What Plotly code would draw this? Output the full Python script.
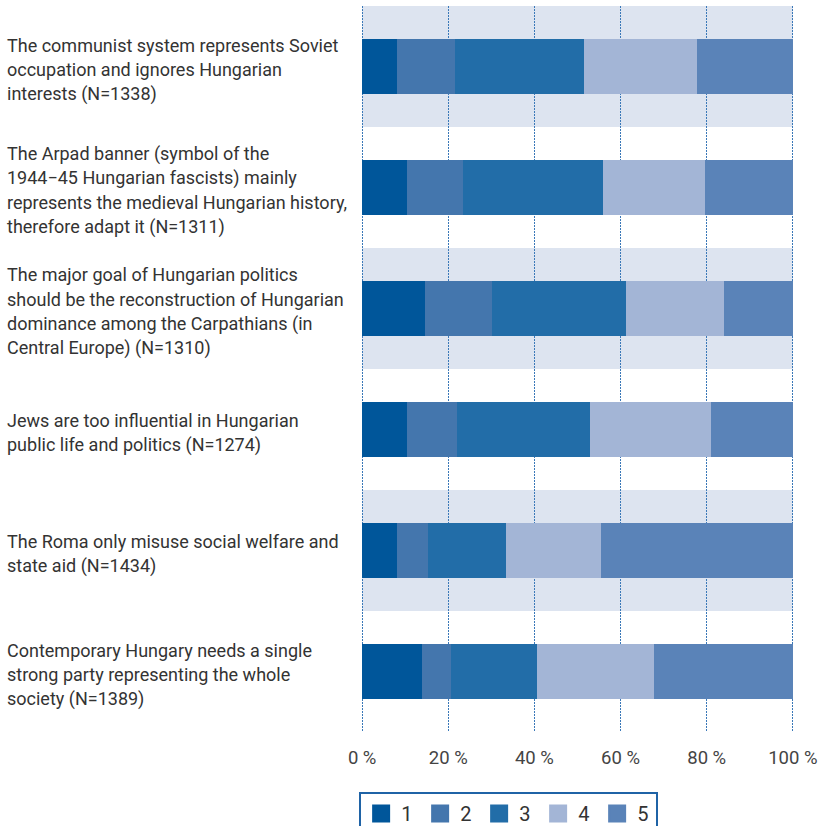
import plotly.graph_objects as go

categories = [
    ["The communist system represents Soviet", "occupation and ignores Hungarian", "interests (N=1338)"],
    ["The Arpad banner (symbol of the", "1944−45 Hungarian fascists) mainly", "represents the medieval Hungarian history,", "therefore adapt it (N=1311)"],
    ["The major goal of Hungarian politics", "should be the reconstruction of Hungarian", "dominance among the Carpathians (in", "Central Europe) (N=1310)"],
    ["Jews are too influential in Hungarian", "public life and politics (N=1274)"],
    ["The Roma only misuse social welfare and", "state aid (N=1434)"],
    ["Contemporary Hungary needs a single", "strong party representing the whole", "society (N=1389)"],
]
series_names = ["1", "2", "3", "4", "5"]
s1 = [8.0, 10.3, 14.5, 10.3, 8.0, 13.8]
s2 = [13.6, 13.2, 15.7, 11.8, 7.4, 6.9]
s3 = [30.0, 32.5, 31.1, 30.7, 18.1, 19.9]
s4 = [26.2, 23.7, 22.8, 28.3, 22.0, 27.2]
s5 = [22.2, 20.3, 15.9, 18.9, 44.5, 32.2]
tick_vals = [0, 20, 40, 60, 80, 100]
tick_text = ["0 %", "20 %", "40 %", "60 %", "80 %", "100 %"]

colors = ["#00569a", "#4476ad", "#226da8", "#a3b5d6", "#5a83b8"]
band_color = "#dde4f0"
FONT = "Roboto"

ypos = list(range(len(categories)))
fig = go.Figure()
for name, vals, col in zip(series_names, [s1, s2, s3, s4, s5], colors):
    fig.add_trace(go.Bar(y=ypos, x=vals, orientation="h", name=name,
                         marker=dict(color=col, line=dict(width=0)),
                         width=0.45, showlegend=False, hoverinfo="x"))
    fig.add_trace(go.Scatter(x=[None], y=[None], mode="markers", name=name,
                             marker=dict(symbol="square", size=16, color=col,
                                         line=dict(width=2, color=col)),
                             showlegend=True))

shapes = []
for i in ypos:
    if i % 2 == 0:
        shapes.append(dict(type="rect", xref="x", yref="y", x0=0, x1=100,
                           y0=i - 0.5, y1=i + 0.5, fillcolor=band_color,
                           line=dict(width=0), layer="below"))

annotations = []
LINE_H = 24.5
for i, lines in enumerate(categories):
    n = len(lines)
    for k, ln in enumerate(lines):
        annotations.append(dict(xref="paper", yref="y", x=-0.8155, y=i,
                                xanchor="left", yanchor="middle",
                                text=ln, showarrow=False,
                                yshift=-(k - (n - 1) / 2) * LINE_H - 3,
                                font=dict(family=FONT, size=18, color="#333333")))

fig.update_layout(
    width=821, height=826,
    margin=dict(l=359.5, r=26, t=6, b=94, autoexpand=False),
    paper_bgcolor="white", plot_bgcolor="white",
    barmode="stack",
    shapes=shapes, annotations=annotations,
    font=dict(family=FONT, color="#444444"),
    legend=dict(orientation="h", x=-0.002, y=-0.0826, xanchor="left", yanchor="top",
                bordercolor="#1f63a6", borderwidth=2, bgcolor="white",
                font=dict(family=FONT, size=20, color="#333333"),
                entrywidth=14, entrywidthmode="pixels", itemwidth=30,
                traceorder="normal"),
    xaxis=dict(range=[-0.5, 100.5], tickvals=tick_vals, ticktext=tick_text,
               showgrid=True, gridcolor="#3a78b8", griddash="2px,1px", gridwidth=1,
               zeroline=False, showline=False, ticks="outside", ticklen=9,
               tickcolor="rgba(0,0,0,0)",
               tickfont=dict(family=FONT, size=18.5, color="#444444")),
    yaxis=dict(range=[5.5, -0.5], showticklabels=False, showgrid=False,
               zeroline=False, showline=False, ticks=""),
)

fig.write_html("out.html", config={"displayModeBar": False},
               post_script="document.body.style.margin='0';")
